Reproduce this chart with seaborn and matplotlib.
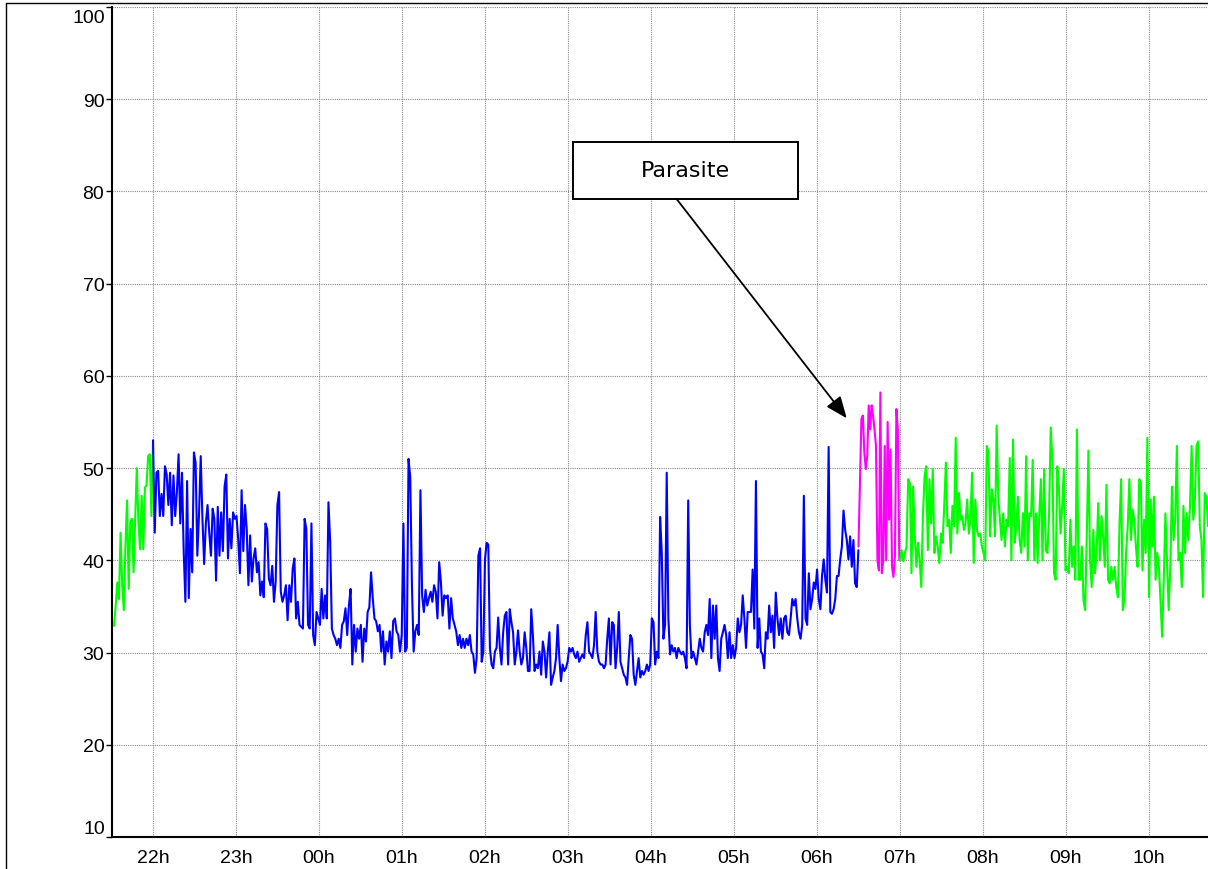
import numpy as np
import pandas as pd
import matplotlib
matplotlib.use("Agg")
import matplotlib.pyplot as plt
import matplotlib.dates as mdates
from matplotlib.patches import Rectangle
from matplotlib.lines import Line2D
import seaborn as sns

# ---------------- data ----------------
y_ticks = [10, 20, 30, 40, 50, 60, 70, 80, 90, 100]
hour_ticks = ["2024-01-01 22:00", "2024-01-01 23:00", "2024-01-02 00:00", "2024-01-02 01:00",
              "2024-01-02 02:00", "2024-01-02 03:00", "2024-01-02 04:00", "2024-01-02 05:00",
              "2024-01-02 06:00", "2024-01-02 07:00", "2024-01-02 08:00", "2024-01-02 09:00",
              "2024-01-02 10:00"]

evening_span = ("2024-01-01 21:31:50", "2024-01-01 22:00:00")
evening_values = [32.9, 35.1, 37.6, 35.8, 43.0, 37.3, 34.6, 41.6, 46.5, 36.9, 44.1, 44.5,
                  38.7, 44.5, 50.0, 44.1, 41.2, 47.0, 41.2, 47.9, 48.1, 51.3, 51.5, 44.8, 53.0]

night_a_span = ("2024-01-01 22:00:00", "2024-01-02 01:56:25")
night_a_values = [53, 43, 49.5, 49.7, 44.8, 47.2, 44.8, 50.2, 49.3, 46, 49.5, 43.8, 49.2, 44.8,
                  47.4, 51.5, 44, 49.5, 41, 35.5, 48.6, 35.9, 43.4, 38.7, 51.7, 50.6, 40.5, 45,
                  51.3, 44.5, 39.6, 44, 46, 43, 40.5, 45.6, 44.5, 37.8, 45.8, 40.5, 45.2, 41, 48,
                  49.3, 40.2, 44.5, 41.3, 45.2, 44.5, 44.8, 42.3, 38.6, 47.6, 41, 46, 43.4, 37.3,
                  42.7, 37.7, 40.2, 41.3, 38.7, 39.8, 36.2, 37.7, 36, 44, 43.4, 38, 37.3, 39.4,
                  35.5, 37.7, 46, 47.4, 36.6, 35.5, 36.2, 37.3, 33.5, 37.3, 35.5, 39.1, 40.2,
                  33.7, 35.5, 33, 32.8, 32.6, 44.5, 43.4, 33, 32.6, 44, 31.9, 30.8, 34.4, 33.7,
                  33, 36.9, 33.7, 36.2, 33.7, 46.3, 42, 32.6, 31.9, 31.5, 30.8, 31.5, 30.5, 33,
                  33.4, 34.8, 31.9, 35.1, 36.9, 28.7, 33, 30.1, 32.6, 31.5, 33, 29, 32.6, 31.2,
                  34.4, 34.9, 38.7, 35.9, 33.7, 33.4, 32.3, 33, 30.1, 32.3, 28.7, 31.2, 30.1,
                  32.3, 29.4, 33.4, 33.7, 32.3, 31.9, 30.1, 31.9, 44, 30.1, 30.5, 51, 49, 37.3,
                  30.1, 32.3, 33, 31.9, 47.6, 36.2, 34.4, 36.8, 35.1, 35.9, 36.6, 35.5, 37.3,
                  36.6, 33.7, 39.8, 37.7, 34, 36.2, 35.9, 36.2, 32.6, 35.9, 33.7, 33, 32.3, 30.8,
                  31.9, 30.5, 31.5, 30.5, 31.5, 30.8, 31.9, 30.1, 29.8, 27.8, 29.4, 40.5, 41.3]

night_b_span = ("2024-01-02 01:57:35", "2024-01-02 06:29:55")
night_b_values = [29.0, 30.1, 40.1, 41.9, 41.7, 30.5, 28.7, 28.3, 30.1, 30.5, 33.8, 30.5, 28.7,
                  32.2, 34.0, 34.4, 28.7, 34.7, 33.3, 32.2, 28.7, 30.1, 32.4, 30.1, 28.7, 29.4,
                  32.2, 30.5, 28.0, 28.0, 34.7, 31.9, 28.0, 28.7, 28.3, 30.1, 27.6, 31.2, 30.1,
                  27.3, 30.1, 32.2, 26.5, 27.3, 28.0, 29.4, 33.0, 29.4, 26.9, 28.7, 28.0, 28.3,
                  29.0, 30.5, 30.1, 30.5, 29.8, 29.4, 30.1, 29.0, 29.4, 29.8, 29.4, 31.9, 33.3,
                  30.1, 29.8, 29.4, 30.8, 34.4, 30.1, 29.0, 28.7, 28.7, 28.3, 28.7, 31.5, 33.7,
                  28.7, 33.3, 33.0, 28.3, 30.5, 34.4, 29.0, 28.3, 27.6, 27.3, 26.5, 29.4, 31.9,
                  31.5, 27.6, 26.5, 28.0, 29.4, 27.3, 28.0, 27.6, 28.0, 28.7, 28.0, 28.7, 33.7,
                  33.3, 28.7, 30.1, 29.4, 44.7, 40.8, 31.5, 33.0, 49.5, 33.7, 29.8, 30.8, 30.1,
                  30.5, 29.4, 30.5, 30.1, 29.8, 30.1, 29.4, 28.3, 46.5, 33.0, 29.4, 30.1, 29.4,
                  28.7, 30.1, 31.5, 30.5, 30.1, 32.2, 33.0, 31.9, 35.8, 29.4, 35.1, 31.5, 35.1,
                  29.4, 28.0, 31.5, 32.2, 33.0, 31.9, 29.4, 32.2, 29.4, 30.8, 29.4, 30.5, 33.7,
                  32.2, 33.0, 36.2, 33.7, 30.5, 34.4, 34.4, 34.4, 39.0, 32.6, 48.6, 30.5, 33.7,
                  30.1, 29.8, 28.3, 32.2, 31.5, 35.1, 32.2, 34.0, 30.5, 36.5, 33.7, 31.9, 33.7,
                  31.5, 33.7, 34.0, 32.2, 31.9, 33.7, 35.8, 35.1, 35.8, 33.7, 32.2, 31.5, 33.0,
                  47.0, 33.7, 33.0, 38.6, 34.7, 35.8, 37.6, 36.9, 39.0, 35.8, 34.7, 38.3, 40.1,
                  37.9, 36.5, 52.3, 34.4, 34.2, 34.7, 35.8, 38.3, 38.3, 40.1, 41.5, 45.4, 43.3,
                  42.2, 40.1, 42.6, 39.3, 42.2, 37.5, 37.1, 41.1]

parasite_span = ("2024-01-02 06:30:00", "2024-01-02 06:59:30")
parasite_values = [41.5, 48.4, 55.3, 55.7, 51.7, 49.9, 51.3, 56.8, 54.2, 56.8, 55.7, 54.2, 52.4,
                   40.0, 38.9, 58.2, 38.6, 40.0, 52.4, 40.0, 55.0, 44.4, 52.0, 39.3, 38.2, 40.4,
                   56.4, 54.2, 40.0]

morning_span = ("2024-01-02 07:00:00", "2024-01-02 10:42:40")
morning_values = [40.0, 41.1, 39.9, 40.8, 41.5, 48.8, 48.4, 38.6, 48.0, 42.9, 39.3, 41.9, 40.0,
                  37.1, 44.8, 49.1, 50.2, 41.1, 48.8, 44.0, 49.9, 40.8, 42.6, 41.5, 39.7, 42.9,
                  41.9, 45.9, 50.6, 43.7, 44.4, 40.8, 45.9, 43.7, 53.3, 42.9, 47.3, 44.4, 44.8,
                  43.3, 44.0, 46.6, 42.9, 44.4, 49.5, 39.7, 46.6, 43.3, 42.6, 42.9, 41.5, 40.8,
                  40.0, 52.4, 51.7, 42.6, 47.7, 46.6, 42.6, 54.6, 46.9, 44.4, 42.2, 45.1, 41.5,
                  44.4, 43.7, 51.1, 40.0, 53.1, 41.9, 43.7, 46.9, 42.2, 40.8, 45.1, 41.5, 51.3,
                  40.0, 45.1, 44.8, 50.9, 40.0, 45.1, 39.7, 44.8, 48.8, 40.0, 49.9, 41.1, 40.8,
                  45.1, 54.4, 50.9, 38.6, 37.9, 50.2, 48.0, 42.9, 45.9, 49.9, 38.9, 39.3, 38.6,
                  44.4, 39.3, 41.5, 37.9, 54.2, 37.9, 37.9, 41.5, 35.7, 34.6, 42.6, 51.9, 40.0,
                  37.1, 43.3, 38.6, 40.8, 46.2, 40.0, 44.8, 42.6, 39.3, 48.2, 37.9, 37.5, 39.3,
                  37.9, 39.3, 37.1, 36.0, 44.0, 48.8, 34.6, 35.7, 40.8, 43.7, 48.8, 42.2, 45.5,
                  44.4, 41.5, 39.3, 48.8, 48.4, 38.9, 44.4, 40.8, 53.3, 36.0, 46.6, 41.5, 46.9,
                  37.9, 40.8, 39.3, 35.7, 31.7, 37.9, 45.1, 40.0, 34.6, 39.3, 48.0, 42.2, 44.4,
                  52.4, 40.0, 40.8, 37.1, 45.9, 40.8, 45.1, 42.2, 45.9, 52.4, 44.4, 46.6, 52.4,
                  52.9, 43.7, 42.2, 36.0, 47.3, 46.9, 43.7]

segment_colors = {"evening": "#00FF00", "night": "#0000FF",
                  "parasite": "#FF00FF", "morning": "#00FF00"}
annotation_text = "Parasite"

# ---------------- build table ----------------
def seg(name, span, values):
    t = pd.date_range(span[0], span[1], periods=len(values))
    return pd.DataFrame({"time": t, "value": values, "segment": name})

df = pd.concat([
    seg("evening", evening_span, evening_values),
    seg("night", night_a_span, night_a_values),
    seg("night", night_b_span, night_b_values),
    seg("parasite", parasite_span, parasite_values),
    seg("morning", morning_span, morning_values),
], ignore_index=True)

# ---------------- figure ----------------
sns.set_theme(style="white")
plt.rcParams["font.family"] = ["Liberation Sans", "DejaVu Sans"]

W, H = 1208, 870
fig = plt.figure(figsize=(W / 100, H / 100), dpi=100)
ax = fig.add_axes([112 / W, 1 - 838 / H, 1 - 112 / W, (838 - 8) / H])

sns.lineplot(data=df, x="time", y="value", hue="segment", palette=segment_colors,
             hue_order=["evening", "night", "parasite", "morning"],
             estimator=None, sort=True, linewidth=1.5, legend=False, ax=ax, zorder=3)

ax.set_xlim(pd.Timestamp("2024-01-01 21:30:20"), pd.Timestamp("2024-01-02 10:42:40"))
ax.set_ylim(10, 100)
ax.set_xlabel("")
ax.set_ylabel("")

ax.set_xticks([pd.Timestamp(h) for h in hour_ticks])
ax.xaxis.set_major_formatter(mdates.DateFormatter("%Hh"))
ax.set_yticks(y_ticks)
ylabels = [str(v) for v in y_ticks]
ylabels[0] = ""
ylabels[-1] = ""
ax.set_yticklabels(ylabels)

ax.grid(True, which="major", color="#8a8a8a", linestyle=(0, (1, 1)), linewidth=0.8, zorder=0)
ax.set_axisbelow(True)
for s in ["top", "right"]:
    ax.spines[s].set_visible(False)
for s in ["left", "bottom"]:
    ax.spines[s].set_color("black")
    ax.spines[s].set_linewidth(1.5)

ax.tick_params(axis="both", which="major", direction="out", color="black",
               labelsize=14, labelcolor="black", width=1.0)
ax.tick_params(axis="x", length=4, pad=5)
ax.tick_params(axis="y", length=4, pad=1.5, left=True)

# shifted end labels (100 and 10) as in the reference
blend = ax.get_yaxis_transform()
ax.annotate("100", xy=(0, 100), xycoords=blend, xytext=(-7, -11), textcoords="offset pixels",
            ha="right", va="center", fontsize=14, color="black", annotation_clip=False)
ax.annotate("10", xy=(0, 10), xycoords=blend, xytext=(-7, 8), textcoords="offset pixels",
            ha="right", va="center", fontsize=14, color="black", annotation_clip=False)

# annotation box with arrow
box_x0 = mdates.date2num(pd.Timestamp("2024-01-02 03:03:40"))
box_x1 = mdates.date2num(pd.Timestamp("2024-01-02 05:46:20"))
box_y0, box_y1 = 79.2, 85.35
ax.add_patch(Rectangle((box_x0, box_y0), box_x1 - box_x0, box_y1 - box_y0,
                       facecolor="white", edgecolor="black", linewidth=1.4, zorder=5))
ax.text((box_x0 + box_x1) / 2, (box_y0 + box_y1) / 2, annotation_text,
        ha="center", va="center", fontsize=16, family="DejaVu Sans", color="black", zorder=6)
ax.annotate("", xy=(pd.Timestamp("2024-01-02 06:21:30"), 55.4),
            xytext=(pd.Timestamp("2024-01-02 04:18:25"), 79.2),
            arrowprops=dict(arrowstyle="-|>,head_length=1.1,head_width=0.45",
                            color="black", lw=1.3, shrinkA=0, shrinkB=0), zorder=6)

# outer frame (left and top edges visible)
fig.add_artist(Line2D([5.5 / W, 5.5 / W], [0, 1 - 3.5 / H], transform=fig.transFigure,
                      color="black", linewidth=1.0))
fig.add_artist(Line2D([5.5 / W, 1], [1 - 3.5 / H, 1 - 3.5 / H], transform=fig.transFigure,
                      color="black", linewidth=1.0))

fig.savefig("out.png", dpi=100)
